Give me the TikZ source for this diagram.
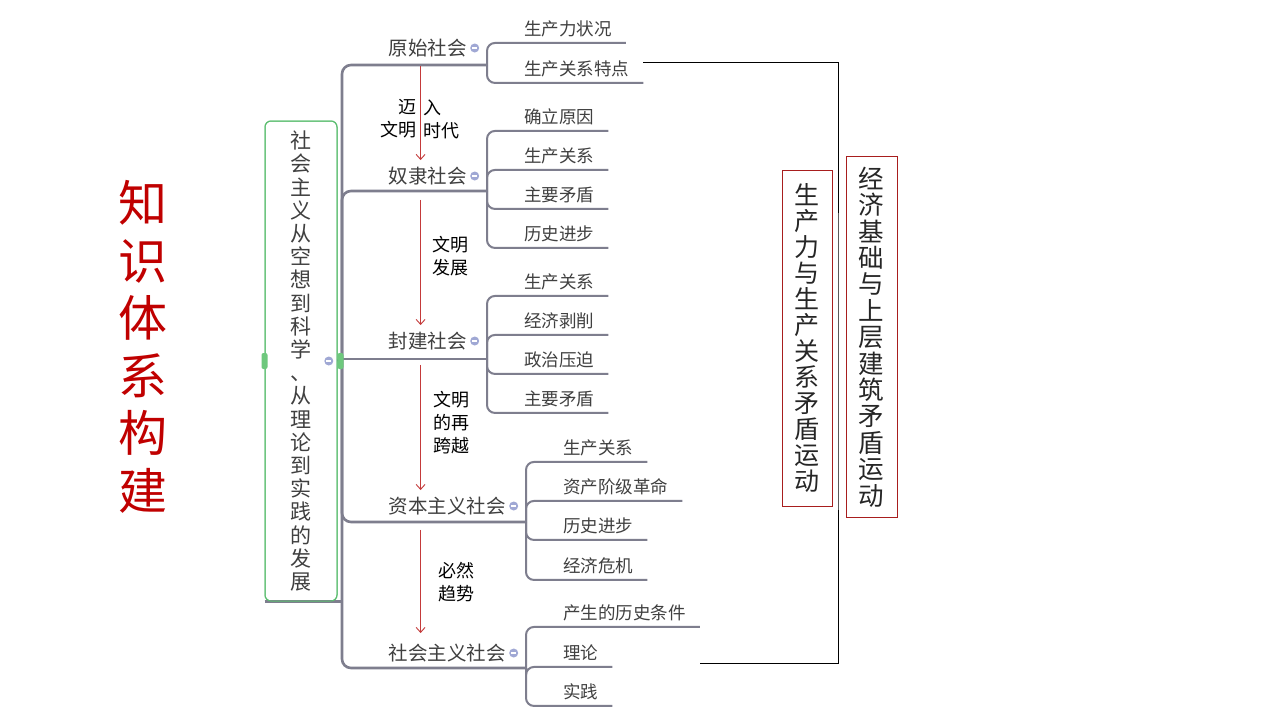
\documentclass[tikz,border=0pt]{standalone}
\usepackage{fontspec}
\setmainfont{Noto Sans CJK SC}
\usepackage{tikz}
\usetikzlibrary{positioning}
\usetikzlibrary{arrows.meta}
\definecolor{stemgray}{RGB}{126,126,142}
\definecolor{textgray}{RGB}{64,64,64}
\definecolor{rootgreen}{RGB}{92,190,112}
\definecolor{handlegreen}{RGB}{110,200,125}
\definecolor{foldblue}{RGB}{160,168,212}
\definecolor{arrowred}{RGB}{196,58,58}
\definecolor{boxred}{RGB}{168,30,30}
\definecolor{titlered}{RGB}{192,0,0}
\tikzstyle{stem}=[draw=stemgray, line width=2.6pt, rounded corners=9pt]
\tikzstyle{twig}=[stem, line width=2pt, rounded corners=8pt]
\tikzstyle{branch}=[text=textgray, font=\fontsize{19.5}{22}\selectfont, inner xsep=1pt, inner ysep=2pt, text height=17.1pt, text depth=2.4pt, anchor=east]
\tikzstyle{leaf}=[text=textgray, font=\fontsize{17.5}{21}\selectfont, inner xsep=14pt, inner ysep=5pt, text height=15.4pt, text depth=2.1pt, anchor=west]
\tikzstyle{fold}=[circle, fill=foldblue, inner sep=0pt, minimum size=9pt, path picture={\draw[white, line width=1.2pt] ([xshift=-2.5pt]path picture bounding box.center) -- ([xshift=2.5pt]path picture bounding box.center);}]
\tikzstyle{handle}=[rounded corners=2pt, fill=handlegreen, inner sep=0pt, minimum width=6pt, minimum height=16pt]
\tikzstyle{evolve}=[draw=arrowred, line width=0.9pt, -{Straight Barb[length=5pt, width=9pt]}]
\tikzstyle{note}=[font=\fontsize{18}{23}\selectfont, inner sep=0pt, align=left, anchor=west]
\tikzstyle{link}=[draw=black, line width=1pt]
\tikzstyle{bigbox}=[draw=boxred, line width=1pt, inner sep=0pt, align=center, text=black!85]
\tikzstyle{rootbox}=[draw=rootgreen, line width=1pt, rounded corners=6pt, minimum width=72pt, minimum height=480pt, text=textgray, font=\fontsize{21}{23.2}\selectfont, align=center, inner sep=0pt]
\tikzstyle{bigtitle}=[text=titlered, font=\fontsize{49}{57.5}\selectfont, align=center, inner sep=0pt]
\begin{document}
\begin{tikzpicture}[x=1pt, y=-1pt]
        \fill[white] (0,0) rectangle (1280,720);
        \useasboundingbox (0,0) rectangle (1280,720);
        \node[bigtitle] (ttl) at (143,347) {知\\识\\体\\系\\构\\建};
        \node[rootbox] (root) at (301,361) {社\\会\\主\\义\\从\\空\\想\\到\\科\\学\\、\\从\\理\\论\\到\\实\\践\\的\\发\\展};
        % main stages
        \node[branch] (b1) at (468,48) {原始社会};
        \node[branch] (b2) at (468,176) {奴隶社会};
        \node[branch] (b3) at (468,341) {封建社会};
        \node[branch] (b4) at (507,506) {资本主义社会};
        \node[branch] (b5) at (507,653) {社会主义社会};
        \coordinate (hub) at (342,359);
        \coordinate (j1) at (487,65);
        \coordinate (j2) at (487,191);
        \coordinate (j3) at (487,359);
        \coordinate (j4) at (526,522);
        \coordinate (j5) at (526,668);
        % sub topics
        \node[leaf] (l11) at (510,29) {生产力状况};
        \node[leaf] (l12) at (510,69) {生产关系特点};
        \node[leaf] (l21) at (510,117) {确立原因};
        \node[leaf] (l22) at (510,156) {生产关系};
        \node[leaf] (l23) at (510,195) {主要矛盾};
        \node[leaf] (l24) at (510,234) {历史进步};
        \node[leaf] (l31) at (510,282) {生产关系};
        \node[leaf] (l32) at (510,321) {经济剥削};
        \node[leaf] (l33) at (510,360) {政治压迫};
        \node[leaf] (l34) at (510,399) {主要矛盾};
        \node[leaf] (l41) at (549,448) {生产关系};
        \node[leaf] (l42) at (549,487) {资产阶级革命};
        \node[leaf] (l43) at (549,526) {历史进步};
        \node[leaf] (l44) at (549,566) {经济危机};
        \node[leaf] (l51) at (549,613) {产生的历史条件};
        \node[leaf] (l52) at (549,653) {理论};
        \node[leaf] (l53) at (549,692) {实践};
        % trunk and twigs
        \draw[stem] (root.south west) -- (root.south east -| hub);
        \draw[stem] (root.east) -- (hub);
        \draw[stem] (hub) |- (j1);
        \draw[stem] (hub) |- (j2);
        \draw[stem] (hub) -- (j3);
        \draw[stem] (hub) |- (j4);
        \draw[stem] (hub) |- (j5);
        \draw[twig] (j1) |- (l11.south east);
        \draw[twig] (j1) |- (l12.south east);
        \draw[twig] (j2) |- (l21.south east);
        \draw[twig] (j2) |- (l22.south east);
        \draw[twig] (j2) |- (l23.south east);
        \draw[twig] (j2) |- (l24.south east);
        \draw[twig] (j3) |- (l31.south east);
        \draw[twig] (j3) |- (l32.south east);
        \draw[twig] (j3) |- (l33.south east);
        \draw[twig] (j3) |- (l34.south east);
        \draw[twig] (j4) |- (l41.south east);
        \draw[twig] (j4) |- (l42.south east);
        \draw[twig] (j4) |- (l43.south east);
        \draw[twig] (j4) |- (l44.south east);
        \draw[twig] (j5) |- (l51.south east);
        \draw[twig] (j5) |- (l52.south east);
        \draw[twig] (j5) |- (l53.south east);
        \node[rootbox, fill=none] at (root) {};
        \node[handle] (hl) at (root.west) {};
        \node[handle] (hr) at ([xshift=3pt]root.east) {};
        \node[fold, left=4pt of root.east] (f0) {};
        \node[fold, right=2pt of b1] (f1) {};
        \node[fold, right=2pt of b2] (f2) {};
        \node[fold, right=2pt of b3] (f3) {};
        \node[fold, right=2pt of b4] (f4) {};
        \node[fold, right=2pt of b5] (f5) {};
        % stage arrows
        \draw[evolve] ([xshift=33pt,yshift=-6pt]b1.south west) -- ([xshift=33pt,yshift=4pt]b2.north west);
        \draw[evolve] ([xshift=33pt,yshift=-12pt]b2.south west) -- ([xshift=33pt,yshift=4pt]b3.north west);
        \draw[evolve] ([xshift=33pt,yshift=-12pt]b3.south west) -- ([xshift=33pt,yshift=4pt]b4.north west);
        \draw[evolve] ([xshift=33pt,yshift=-12pt]b4.south west) -- ([xshift=33pt,yshift=8pt]b5.north west);
        \node[note, anchor=east, align=right] (n1a) at (417,119) {迈\\文明};
        \node[note] (n1b) at (423,119) {入\\时代};
        \node[note] (n2) at (432,256) {文明\\发展};
        \node[note] (n3) at (433,423) {文明\\的再\\跨越};
        \node[note] (n4) at (438,582) {必然\\趋势};
        % right side
        \node[bigbox, minimum width=50pt, minimum height=336pt, font=\fontsize{25}{26}\selectfont] (prod) at (807,338) {生\\产\\力\\与\\生\\产\\关\\系\\矛\\盾\\运\\动};
        \node[bigbox, minimum width=51pt, minimum height=361pt, font=\fontsize{25.5}{26.4}\selectfont] (base) at (871.5,337) {经\\济\\基\\础\\与\\上\\层\\建\\筑\\矛\\盾\\运\\动};
        \coordinate (rail) at (838,360);
        \coordinate (lkend) at (700,663);
        \draw[link] ([yshift=7pt]l12.east) -| (rail) |- (lkend);
    \end{tikzpicture}
\end{document}
